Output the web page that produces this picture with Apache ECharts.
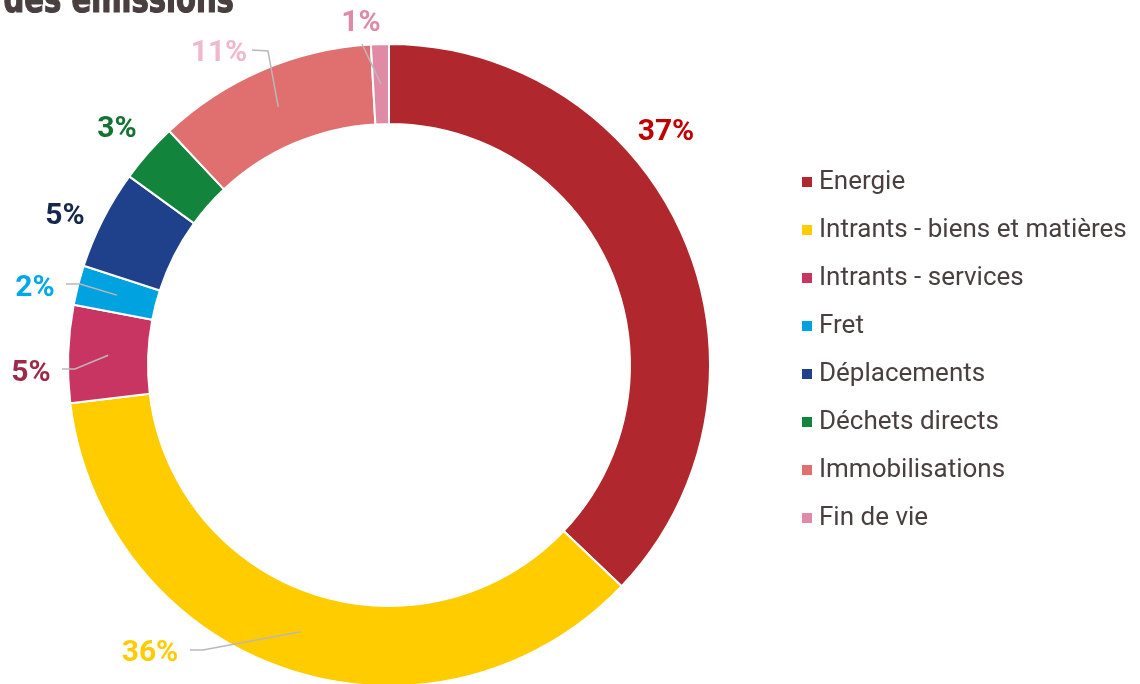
<!DOCTYPE html>
<html>
<head>
<meta charset="utf-8">
<script src="https://cdn.jsdelivr.net/npm/echarts@6/dist/echarts.min.js"></script>
<style>
html,body{margin:0;padding:0;background:#fff;}
#c{width:1140px;height:684px;}
</style>
</head>
<body>
<div id="c"></div>
<script>
// ---- data ----
const categories = ['Energie', 'Intrants - biens et matières', 'Intrants - services', 'Fret', 'Déplacements', 'Déchets directs', 'Immobilisations', 'Fin de vie'];
const values = [37.1, 36.0, 4.9, 2.0, 5.0, 3.0, 11.1, 0.9];
const titleText = 'des émissions';

// ---- styles / layout ----
const sliceColors = ['#b0272d', '#ffcc00', '#c83562', '#00a3e0', '#1f418b', '#13843b', '#e07070', '#e08aa5'];
const labelColors = ['#c00000', '#ffcc00', '#9e2a4a', '#00a8e8', '#14284b', '#137333', '#f0b8c8', '#e08aa8'];
const labelPos = [[666,132],[150,653],[31,373],[35,288],[65,216],[117,129],[219,53],[361,23]];
const lineBends = [null, [[203,650],[190,650]], [[75,369],[62,369]], [[80,284],[66,284]], null, null, [[268,51],[252,50]], [[362,44]]];
const CX = 389, CY = 365, R_IN = 241, R_OUT = 321;

const total = values.reduce((a,b)=>a+b,0);
const midAngles = [];
let cum = 0;
values.forEach(v => { midAngles.push(2*Math.PI*(cum + v/2)/total); cum += v; });

const pieData = categories.map((name, i) => ({ name: name, value: values[i] }));

const chart = echarts.init(document.getElementById('c'));
chart.setOption({
  animation: false,
  graphic: [{
    type: 'text', left: 3, top: -17, scaleX: 0.85,
    style: { text: titleText, font: 'bold 38px "Liberation Sans Narrow", "DejaVu Sans Condensed", sans-serif', fill: '#4a3f3f', stroke: '#4a3f3f', lineWidth: 1.2 }
  }],
  legend: {
    orient: 'vertical',
    left: 800,
    top: 169,
    padding: 0,
    icon: 'rect',
    itemWidth: 12,
    itemHeight: 12,
    itemGap: 22,
    data: categories,
    textStyle: { fontFamily: 'Roboto', fontSize: 26, color: '#4a3f3f', padding: [0,0,0,1] }
  },
  series: [{
    type: 'pie',
    name: 'ring',
    center: [CX, CY],
    radius: [R_IN, R_OUT],
    startAngle: 90,
    clockwise: true,
    label: { show: false },
    labelLine: { show: false },
    itemStyle: { borderColor: '#ffffff', borderWidth: 2 },
    data: pieData.map((d, i) => Object.assign({}, d, { itemStyle: { color: sliceColors[i] } }))
  }, {
    type: 'pie',
    name: 'labels',
    z: 3,
    silent: true,
    legendHoverLink: false,
    center: [CX, CY],
    radius: [R_IN, R_OUT],
    startAngle: 90,
    clockwise: true,
    avoidLabelOverlap: false,
    itemStyle: { color: 'rgba(0,0,0,0)', borderWidth: 0 },
    label: {
      show: true,
      position: 'outside',
      fontFamily: 'Roboto',
      fontWeight: 'bold',
      fontSize: 30,
      formatter: p => Math.round(p.percent) + '%'
    },
    labelLine: { show: true, lineStyle: { color: '#bdb6b9', width: 1.5 }, smooth: false },
    labelLayout: function (params) {
      const i = params.dataIndex;
      const res = { x: labelPos[i][0], y: labelPos[i][1], align: 'center', verticalAlign: 'middle' };
      if (lineBends[i]) {
        const rMid = (R_IN + R_OUT) / 2;
        const a = midAngles[i];
        const start = [CX + rMid*Math.sin(a), CY - rMid*Math.cos(a)];
        res.labelLinePoints = [start].concat(lineBends[i]);
      }
      return res;
    },
    data: pieData.map((d, i) => Object.assign({}, d, {
      label: { color: labelColors[i] },
      labelLine: { show: !!lineBends[i] }
    }))
  }]
});
</script>
</body>
</html>
